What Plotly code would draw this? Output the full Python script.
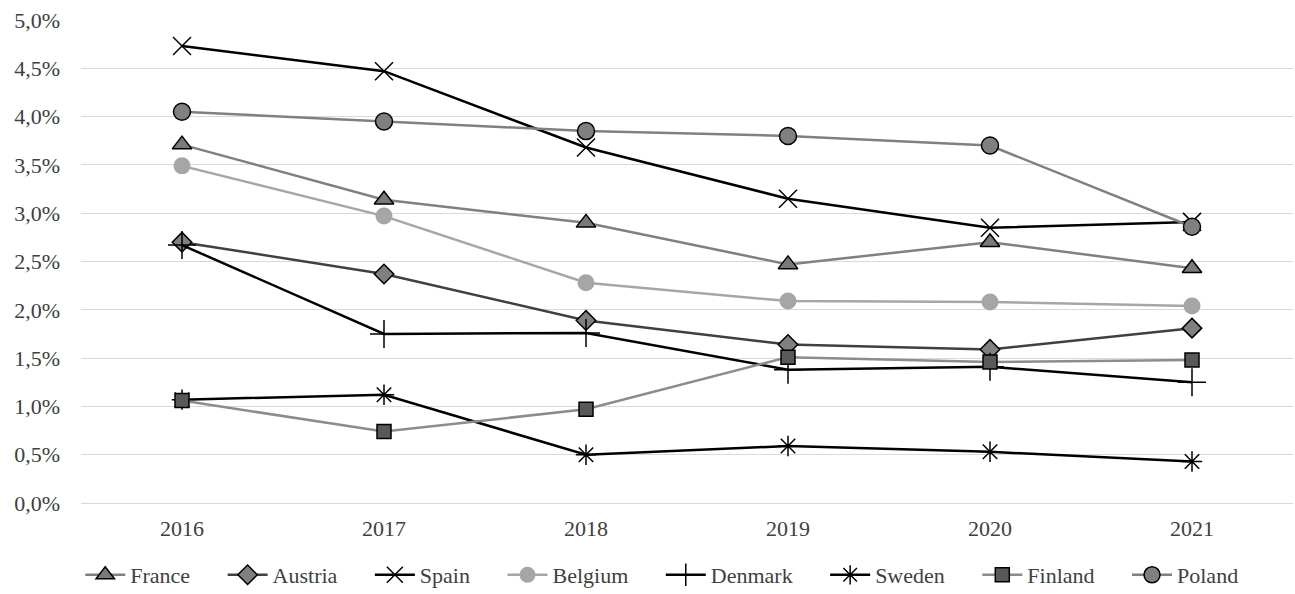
import plotly.graph_objects as go

years = ["2016", "2017", "2018", "2019", "2020", "2021"]
france = [3.71, 3.14, 2.90, 2.47, 2.70, 2.43]
austria = [2.70, 2.37, 1.89, 1.64, 1.59, 1.81]
spain = [4.73, 4.47, 3.68, 3.15, 2.85, 2.91]
belgium = [3.49, 2.97, 2.28, 2.09, 2.08, 2.04]
denmark = [2.67, 1.75, 1.76, 1.38, 1.41, 1.25]
sweden = [1.07, 1.12, 0.50, 0.59, 0.53, 0.43]
finland = [1.06, 0.74, 0.97, 1.51, 1.46, 1.48]
poland = [4.05, 3.95, 3.85, 3.80, 3.70, 2.86]

series = [
    ("France", france, dict(color="#808080", width=2.5),
     dict(symbol="triangle-up", size=17, color="#7a7a7a", line=dict(color="#000000", width=1.5))),
    ("Austria", austria, dict(color="#404040", width=2.5),
     dict(symbol="diamond", size=15, color="#808080", line=dict(color="#000000", width=1.5))),
    ("Spain", spain, dict(color="#000000", width=2.5),
     dict(symbol="x-thin-open", size=18, color="#000000", line=dict(color="#000000", width=1.5))),
    ("Belgium", belgium, dict(color="#a6a6a6", width=2.5),
     dict(symbol="circle", size=17, color="#a6a6a6", line=dict(color="#a6a6a6", width=0))),
    ("Denmark", denmark, dict(color="#000000", width=2.5),
     dict(symbol="cross-thin-open", size=20, color="#000000", line=dict(color="#000000", width=1.5))),
    ("Sweden", sweden, dict(color="#000000", width=2.5),
     dict(symbol="asterisk-open", size=17, color="#000000", line=dict(color="#000000", width=1.5))),
    ("Finland", finland, dict(color="#8c8c8c", width=2.5),
     dict(symbol="square", size=14, color="#595959", line=dict(color="#000000", width=1.5))),
    ("Poland", poland, dict(color="#808080", width=2.5),
     dict(symbol="circle", size=17, color="#808080", line=dict(color="#000000", width=1.5))),
]

fig = go.Figure()
pad = "\u00a0" * 5
for i, (name, vals, line, marker) in enumerate(series):
    fig.add_trace(go.Scatter(
        x=years, y=[v / 100 for v in vals],
        name=name + (pad if i < len(series) - 1 else ""),
        mode="lines+markers", line=line, marker=marker,
    ))

font = "Liberation Serif"
fig.update_layout(
    width=1295, height=594,
    margin=dict(l=81, r=2, t=20, b=91),
    paper_bgcolor="white", plot_bgcolor="white",
    separators=", ",
    font=dict(family=font, size=22, color="#404040"),
    showlegend=True,
    legend=dict(orientation="h", x=0.511, xanchor="center", xref="container",
                y=0.032, yanchor="middle", yref="container",
                font=dict(family=font, size=22, color="#404040"),
                itemwidth=40, tracegroupgap=0),
)
fig.update_xaxes(type="category", range=[-0.5, 5.5], showgrid=False, showline=False,
                 ticks="", ticklabelstandoff=10,
                 tickfont=dict(family=font, size=22, color="#404040"))
fig.update_yaxes(range=[0, 0.05], dtick=0.005, tickformat=".1%", showgrid=True,
                 gridcolor="#d9d9d9", gridwidth=1, zeroline=True, zerolinecolor="#d9d9d9",
                 zerolinewidth=1, showline=False, ticks="", ticklabelstandoff=20,
                 tickfont=dict(family=font, size=22, color="#404040"))

fig.write_html("out.html", config={"displayModeBar": False},
               post_script="document.body.style.margin='0';")
